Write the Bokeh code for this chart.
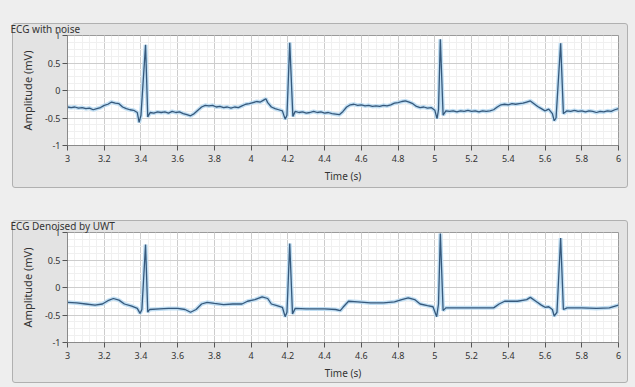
from bokeh.plotting import figure
from bokeh.layouts import column
from bokeh.models import FixedTicker, InlineStyleSheet, Title
from bokeh.embed import file_html
from bokeh.resources import INLINE

titles = ["ECG with noise", "ECG Denoised by UWT"]
x_label = "Time (s)"
y_label = "Amplitude (mV)"
x_ticks = [3.0, 3.2, 3.4, 3.6, 3.8, 4.0, 4.2, 4.4, 4.6, 4.8, 5.0, 5.2, 5.4, 5.6, 5.8, 6.0]
x_tick_labels = ["3", "3.2", "3.4", "3.6", "3.8", "4", "4.2", "4.4", "4.6", "4.8",
                 "5", "5.2", "5.4", "5.6", "5.8", "6"]
y_ticks = [-1.0, -0.5, 0.0, 0.5, 1.0]
y_tick_labels = ["-1", "-0.5", "0", "0.5", "1"]

noisy_t = [3.00, 3.02, 3.04, 3.06, 3.08, 3.10, 3.12, 3.14, 3.16, 3.18, 3.20, 3.22, 3.24, 3.26,
           3.28, 3.30, 3.32, 3.34, 3.36, 3.38, 3.39, 3.40, 3.425, 3.437, 3.45, 3.47, 3.49,
           3.51, 3.53, 3.55, 3.57, 3.59, 3.61, 3.63, 3.65, 3.67, 3.69, 3.71, 3.73, 3.75,
           3.77, 3.79, 3.81, 3.83, 3.85, 3.87, 3.89, 3.91, 3.93, 3.95, 3.97, 3.99, 4.01,
           4.03, 4.05, 4.07, 4.08, 4.09, 4.11, 4.13, 4.15, 4.17, 4.185, 4.195, 4.21, 4.227,
           4.24, 4.26, 4.28, 4.30, 4.32, 4.34, 4.36, 4.38, 4.40, 4.42, 4.44, 4.46, 4.48,
           4.50, 4.52, 4.54, 4.56, 4.58, 4.60, 4.62, 4.64, 4.66, 4.68, 4.70, 4.72, 4.74,
           4.76, 4.78, 4.80, 4.82, 4.84, 4.86, 4.88, 4.90, 4.92, 4.94, 4.96, 4.98, 5.00,
           5.012, 5.02, 5.03, 5.045, 5.06, 5.08, 5.10, 5.12, 5.14, 5.16, 5.18, 5.20, 5.22,
           5.24, 5.26, 5.28, 5.30, 5.32, 5.34, 5.36, 5.38, 5.40, 5.42, 5.44, 5.46, 5.48,
           5.50, 5.52, 5.54, 5.56, 5.58, 5.60, 5.62, 5.64, 5.65, 5.66, 5.685, 5.70, 5.72,
           5.74, 5.76, 5.78, 5.80, 5.82, 5.84, 5.86, 5.88, 5.90, 5.92, 5.94, 5.96, 5.98, 6.00]
noisy_v = [-0.30, -0.31, -0.30, -0.32, -0.31, -0.33, -0.32, -0.35, -0.33, -0.31, -0.27, -0.25,
           -0.21, -0.23, -0.24, -0.30, -0.33, -0.35, -0.36, -0.40, -0.58, -0.45, 0.83, -0.48,
           -0.40, -0.41, -0.39, -0.40, -0.39, -0.41, -0.38, -0.40, -0.39, -0.42, -0.44, -0.46,
           -0.42, -0.36, -0.30, -0.27, -0.28, -0.27, -0.30, -0.29, -0.31, -0.30, -0.32, -0.30,
           -0.31, -0.28, -0.25, -0.24, -0.22, -0.20, -0.21, -0.17, -0.15, -0.22, -0.30, -0.33,
           -0.35, -0.37, -0.52, -0.45, 0.87, -0.47, -0.38, -0.40, -0.39, -0.41, -0.40, -0.38,
           -0.40, -0.39, -0.41, -0.40, -0.42, -0.43, -0.44, -0.38, -0.30, -0.26, -0.25, -0.27,
           -0.26, -0.28, -0.27, -0.29, -0.28, -0.29, -0.27, -0.28, -0.26, -0.23, -0.22, -0.20,
           -0.19, -0.21, -0.24, -0.29, -0.31, -0.30, -0.32, -0.31, -0.36, -0.51, -0.35, 0.93,
           -0.45, -0.37, -0.38, -0.37, -0.39, -0.37, -0.38, -0.36, -0.38, -0.37, -0.39, -0.37,
           -0.38, -0.37, -0.35, -0.30, -0.26, -0.25, -0.26, -0.24, -0.25, -0.24, -0.23, -0.21,
           -0.19, -0.24, -0.29, -0.33, -0.37, -0.34, -0.42, -0.55, -0.50, 0.86, -0.42, -0.37,
           -0.38, -0.36, -0.38, -0.37, -0.39, -0.37, -0.38, -0.40, -0.38, -0.39, -0.37, -0.38,
           -0.35, -0.33]

denoised_t = [3.00, 3.05, 3.10, 3.15, 3.19, 3.22, 3.25, 3.28, 3.31, 3.35, 3.38, 3.395, 3.405,
              3.425, 3.437, 3.447, 3.50, 3.55, 3.60, 3.64, 3.67, 3.70, 3.73, 3.76, 3.80, 3.85,
              3.90, 3.95, 3.98, 4.02, 4.06, 4.09, 4.11, 4.14, 4.17, 4.185, 4.195, 4.21, 4.225,
              4.24, 4.30, 4.40, 4.46, 4.485, 4.50, 4.53, 4.58, 4.65, 4.72, 4.78, 4.82, 4.855,
              4.89, 4.92, 4.96, 4.99, 5.01, 5.02, 5.03, 5.045, 5.06, 5.15, 5.25, 5.32, 5.35,
              5.38, 5.45, 5.50, 5.52, 5.55, 5.58, 5.60, 5.62, 5.64, 5.65, 5.665, 5.685, 5.70,
              5.72, 5.80, 5.88, 5.95, 6.00]
denoised_v = [-0.27, -0.28, -0.30, -0.32, -0.30, -0.24, -0.20, -0.23, -0.30, -0.34, -0.38, -0.47,
              -0.40, 0.78, -0.45, -0.40, -0.39, -0.38, -0.38, -0.40, -0.45, -0.40, -0.30, -0.27,
              -0.29, -0.31, -0.30, -0.30, -0.25, -0.22, -0.17, -0.20, -0.30, -0.33, -0.36, -0.53,
              -0.45, 0.80, -0.48, -0.38, -0.39, -0.39, -0.40, -0.42, -0.36, -0.25, -0.26, -0.28,
              -0.28, -0.26, -0.22, -0.19, -0.22, -0.30, -0.33, -0.35, -0.53, -0.30, 0.98, -0.42,
              -0.37, -0.37, -0.37, -0.37, -0.30, -0.25, -0.25, -0.22, -0.18, -0.25, -0.32, -0.36,
              -0.35, -0.40, -0.52, -0.45, 0.90, -0.40, -0.37, -0.37, -0.38, -0.37, -0.32]

FONT = "Noto Sans"
OUTER = "#eeeeee"
INNER = "#e3e3e3"
W = 635
BOX_LEFT, BOX_RIGHT = 12, 630


def panel_css(box_top, box_bottom):
    return InlineStyleSheet(css=(
        ":host { isolation: isolate; }\n"
        ":host::before { content: ''; position: absolute; z-index: -1; "
        f"left: {BOX_LEFT}px; top: {box_top}px; width: {BOX_RIGHT - BOX_LEFT - 2}px; "
        f"height: {box_bottom - box_top - 2}px; "
        f"background: {INNER}; border: 1px solid #b0b0b0; border-radius: 3px; "
        f"box-shadow: 0 0 0 28px {OUTER}; }}\n"
    ))


def make_panel(title, t, v, height, frame_top, frame_bottom, box_top, box_bottom):
    p = figure(width=W, height=height, x_range=(3, 6), y_range=(-1, 1), title=None,
               output_backend="svg", toolbar_location=None,
               min_border_left=67, min_border_right=17,
               min_border_top=frame_top, min_border_bottom=height - frame_bottom,
               stylesheets=[panel_css(box_top, box_bottom)])
    p.border_fill_color = None
    p.background_fill_color = "white"
    p.outline_line_color = "#9a9a9a"
    p.outline_line_width = 1

    # panel caption first, then an invisible spacer that sits between it and the frame
    p.add_layout(Title(text=title, align="left", offset=-57, standoff=0,
                       text_font=FONT, text_font_size="10px", text_font_style="normal",
                       text_color="#333333"), "above")
    p.add_layout(Title(text=" ", text_font=FONT, text_font_size="10px", standoff=0,
                       text_alpha=0), "above")

    minor_x = [3 + i * 0.04 for i in range(76)]
    minor_y = [-1 + i * 0.125 for i in range(17)]
    p.xaxis.ticker = FixedTicker(ticks=x_ticks, minor_ticks=minor_x)
    p.yaxis.ticker = FixedTicker(ticks=y_ticks, minor_ticks=minor_y)
    p.xaxis.major_label_overrides = dict(zip(x_ticks, x_tick_labels))
    p.yaxis.major_label_overrides = dict(zip(y_ticks, y_tick_labels))

    for ax in (p.xaxis[0], p.yaxis[0]):
        ax.axis_line_color = "#8a8a8a"
        ax.major_tick_line_color = "#555555"
        ax.major_tick_out = 5
        ax.major_tick_in = 0
        ax.minor_tick_line_color = None
        ax.major_label_text_font = FONT
        ax.major_label_text_font_size = "9px"
        ax.major_label_text_color = "#333333"
        ax.axis_label_text_font = FONT
        ax.axis_label_text_font_style = "normal"
        ax.axis_label_text_color = "#333333"
    p.xaxis.axis_label = x_label
    p.yaxis.axis_label = y_label
    p.xaxis.axis_label_text_font_size = "10px"
    p.yaxis.axis_label_text_font_size = "11px"
    p.xaxis.major_label_standoff = 4
    p.yaxis.major_label_standoff = 2
    p.xaxis.axis_label_standoff = 4
    p.yaxis.axis_label_standoff = 7

    p.grid.grid_line_color = "#cdcdcd"
    p.grid.minor_grid_line_color = "#f0f0f0"

    p.line(t, v, line_color="#b9daf2", line_width=4, line_alpha=0.9)
    p.line(t, v, line_color="#36597c", line_width=1.3)
    return p


p1 = make_panel(titles[0], noisy_t, noisy_v, 198, 35, 145, 23, 190)
p2 = make_panel(titles[1], denoised_t, denoised_v, 189, 34, 144, 22, 187)
p = column(p1, p2, spacing=0)

open("out.html", "w").write(file_html(p, INLINE))
